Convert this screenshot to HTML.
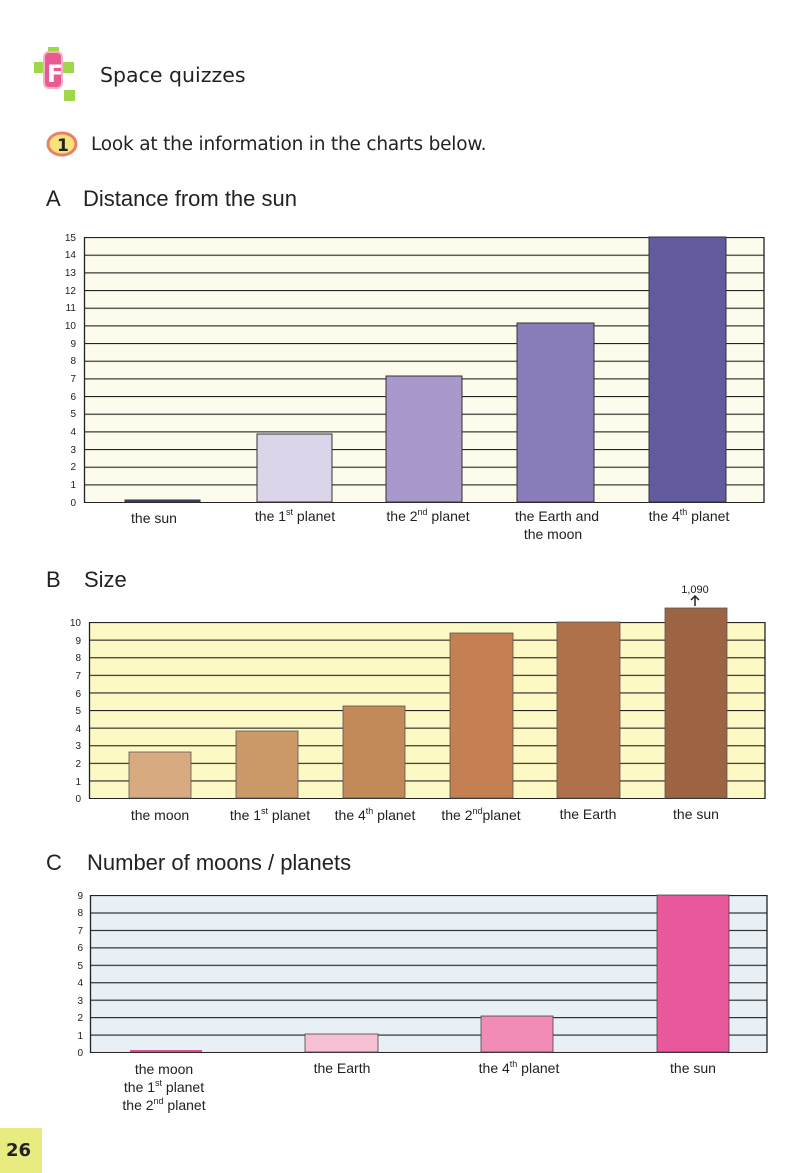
<!DOCTYPE html>
<html><head><meta charset="utf-8"><style>
body{margin:0;background:#fff;}
svg{display:block;font-family:"Liberation Sans",sans-serif;}
.hw{font-family:"Comic Sans MS","DejaVu Sans",sans-serif;}
</style></head><body>
<svg width="800" height="1173" viewBox="0 0 800 1173" xmlns="http://www.w3.org/2000/svg">
<defs>
<pattern id="pa" x="0" y="237" width="800" height="17.667" patternUnits="userSpaceOnUse"><line x1="0" y1="0.5" x2="800" y2="0.5" stroke="#222" stroke-width="1.3"/></pattern>
<pattern id="pb" x="0" y="622" width="800" height="17.6" patternUnits="userSpaceOnUse"><line x1="0" y1="0.5" x2="800" y2="0.5" stroke="#222" stroke-width="1.3"/></pattern>
<pattern id="pc" x="0" y="895" width="800" height="17.44" patternUnits="userSpaceOnUse"><line x1="0" y1="0.5" x2="800" y2="0.5" stroke="#222" stroke-width="1.3"/></pattern>
</defs>
<!-- header -->
<rect x="34" y="62" width="11" height="11" fill="#9ed84a"/>
<rect x="63" y="62" width="11" height="11" fill="#9ed84a"/>
<rect x="48" y="47" width="11" height="11" fill="#9ed84a"/>
<rect x="64" y="90" width="11" height="11" fill="#9ed84a"/>
<rect x="44" y="52" width="18" height="36" rx="5" fill="#e85a90" stroke="#f7b0c8" stroke-width="2"/>
<text x="47" y="82" font-size="24" font-weight="bold" fill="#fff" class="hw">F</text>
<text x="100" y="82" font-size="20.5" class="hw" fill="#222">Space quizzes</text>
<ellipse cx="62" cy="144" rx="14" ry="11" fill="#f8e27a" stroke="#e8806a" stroke-width="3"/>
<text x="57" y="151" font-size="17" font-weight="bold" class="hw" fill="#222">1</text>
<text x="91" y="150" font-size="18.5" class="hw" fill="#222" letter-spacing="-0.2">Look at the information in the charts below.</text>
<text x="46" y="206" font-size="22" fill="#222">A</text>
<text x="83" y="206" font-size="22" fill="#222">Distance from the sun</text>
<!-- chart A -->
<rect x="84" y="237" width="680" height="265" fill="#fdfcec"/>
<rect x="84" y="237" width="680" height="266" fill="url(#pa)"/>
<line x1="84.5" y1="237" x2="84.5" y2="503" stroke="#222" stroke-width="1.3"/>
<line x1="764" y1="237" x2="764" y2="503" stroke="#222" stroke-width="1.3"/>
<g font-size="10" fill="#222" text-anchor="end">
<text x="76" y="506">0</text><text x="76" y="488">1</text><text x="76" y="470">2</text><text x="76" y="453">3</text><text x="76" y="435">4</text><text x="76" y="417">5</text><text x="76" y="400">6</text><text x="76" y="382">7</text><text x="76" y="364">8</text><text x="76" y="347">9</text><text x="76" y="329">10</text><text x="76" y="311">11</text><text x="76" y="294">12</text><text x="76" y="276">13</text><text x="76" y="258">14</text><text x="76" y="241">15</text>
</g>
<g stroke="#333" stroke-width="1">
<rect x="125" y="500" width="75" height="2" fill="#4a3f8a"/>
<rect x="257" y="434" width="75" height="68" fill="#dcd4e8"/>
<rect x="386" y="376" width="76" height="126" fill="#a898cc"/>
<rect x="517" y="323" width="77" height="179" fill="#8a7cb8"/>
<rect x="649" y="237" width="77" height="265" fill="#625b9e"/>
</g>
<g font-size="14" fill="#222" text-anchor="middle">
<text x="154" y="523">the sun</text>
<text x="295" y="521">the 1<tspan font-size="9" dy="-6">st</tspan><tspan dy="6"> planet</tspan></text>
<text x="428" y="521">the 2<tspan font-size="9" dy="-6">nd</tspan><tspan dy="6"> planet</tspan></text>
<text x="557" y="521">the Earth and</text><text x="553" y="539">the moon</text>
<text x="689" y="521">the 4<tspan font-size="9" dy="-6">th</tspan><tspan dy="6"> planet</tspan></text>
</g>
<!-- chart B -->
<text x="46" y="587" font-size="22" fill="#222">B</text>
<text x="84" y="587" font-size="22" fill="#222">Size</text>
<rect x="89" y="622" width="676" height="176" fill="#fdf9c4"/>
<rect x="89" y="622" width="676" height="177" fill="url(#pb)"/>
<line x1="89.5" y1="622" x2="89.5" y2="799" stroke="#222" stroke-width="1.3"/>
<line x1="765" y1="622" x2="765" y2="799" stroke="#222" stroke-width="1.3"/>
<g font-size="10" fill="#222" text-anchor="end">
<text x="81" y="802">0</text><text x="81" y="785">1</text><text x="81" y="767">2</text><text x="81" y="749">3</text><text x="81" y="732">4</text><text x="81" y="714">5</text><text x="81" y="697">6</text><text x="81" y="679">7</text><text x="81" y="661">8</text><text x="81" y="644">9</text><text x="81" y="626">10</text>
</g>
<g stroke="#555" stroke-width="0.8">
<rect x="129" y="752" width="62" height="46" fill="#d8aa80"/>
<rect x="236" y="731" width="62" height="67" fill="#cc9a68"/>
<rect x="343" y="706" width="62" height="92" fill="#c18a58"/>
<rect x="450" y="633" width="63" height="165" fill="#c47f52"/>
<rect x="557" y="622" width="63" height="176" fill="#b0704a"/>
<rect x="665" y="608" width="62" height="190" fill="#9c6442"/>
</g>
<text x="695" y="593" font-size="11" fill="#222" text-anchor="middle">1,090</text>
<path d="M695 606 V597 M691 600 L695 596 L699 600" stroke="#222" stroke-width="1.5" fill="none"/>
<g font-size="14" fill="#222" text-anchor="middle">
<text x="160" y="820">the moon</text>
<text x="270" y="820">the 1<tspan font-size="9" dy="-6">st</tspan><tspan dy="6"> planet</tspan></text>
<text x="375" y="820">the 4<tspan font-size="9" dy="-6">th</tspan><tspan dy="6"> planet</tspan></text>
<text x="481" y="820">the 2<tspan font-size="9" dy="-6">nd</tspan><tspan dy="6">planet</tspan></text>
<text x="588" y="819">the Earth</text>
<text x="696" y="819">the sun</text>
</g>
<!-- chart C -->
<text x="46" y="870" font-size="22" fill="#222">C</text>
<text x="87" y="870" font-size="22" fill="#222">Number of moons / planets</text>
<rect x="90" y="895" width="677" height="157" fill="#e8f0f6"/>
<rect x="90" y="895" width="677" height="158" fill="url(#pc)"/>
<line x1="90.5" y1="895" x2="90.5" y2="1053" stroke="#222" stroke-width="1.3"/>
<line x1="767" y1="895" x2="767" y2="1053" stroke="#222" stroke-width="1.3"/>
<g font-size="10" fill="#222" text-anchor="end">
<text x="83" y="1056">0</text><text x="83" y="1039">1</text><text x="83" y="1021">2</text><text x="83" y="1004">3</text><text x="83" y="986">4</text><text x="83" y="969">5</text><text x="83" y="951">6</text><text x="83" y="934">7</text><text x="83" y="916">8</text><text x="83" y="899">9</text>
</g>
<g stroke="#444" stroke-width="0.8">
<rect x="130" y="1050" width="72" height="2" fill="#d8508a" stroke="none"/>
<rect x="305" y="1034" width="73" height="18" fill="#f6c0d4"/>
<rect x="481" y="1016" width="72" height="36" fill="#f08cb6"/>
<rect x="657" y="895" width="72" height="157" fill="#e8589a"/>
</g>
<g font-size="14" fill="#222" text-anchor="middle">
<text x="164" y="1074">the moon</text>
<text x="164" y="1092">the 1<tspan font-size="9" dy="-6">st</tspan><tspan dy="6"> planet</tspan></text>
<text x="164" y="1110">the 2<tspan font-size="9" dy="-6">nd</tspan><tspan dy="6"> planet</tspan></text>
<text x="342" y="1073">the Earth</text>
<text x="519" y="1073">the 4<tspan font-size="9" dy="-6">th</tspan><tspan dy="6"> planet</tspan></text>
<text x="693" y="1073">the sun</text>
</g>
<!-- page number -->
<rect x="0" y="1128" width="42" height="45" fill="#e8ec80"/>
<text x="6" y="1156" font-size="18" font-weight="bold" class="hw" fill="#222">26</text>
</svg>
</body></html>
